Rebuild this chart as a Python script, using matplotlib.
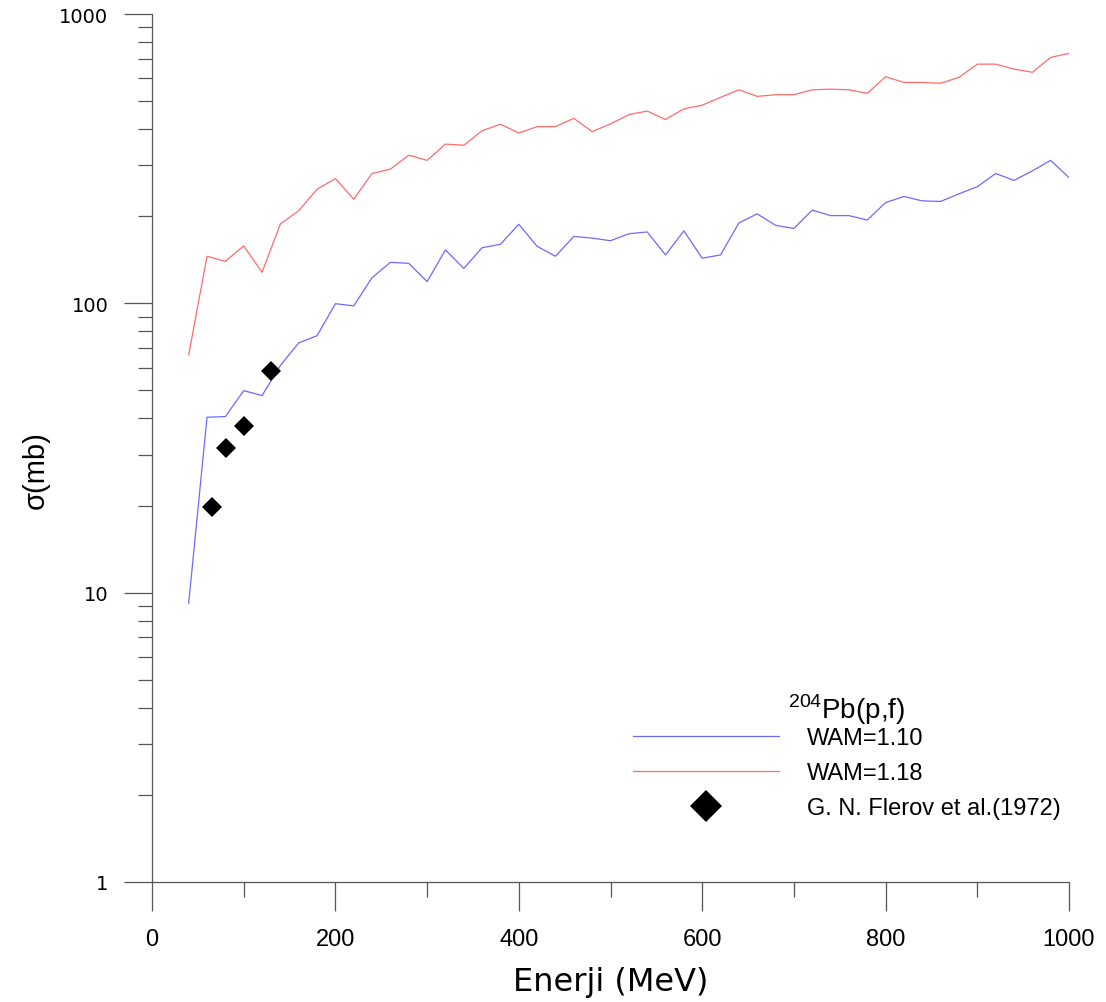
import matplotlib
matplotlib.use('Agg')
import matplotlib.pyplot as plt
from matplotlib.ticker import FixedLocator, LogLocator, NullFormatter

# Veriler
enerji = [40, 60, 80, 100, 120, 140, 160, 180, 200, 220, 240, 260, 280, 300,
          320, 340, 360, 380, 400, 420, 440, 460, 480, 500, 520, 540, 560,
          580, 600, 620, 640, 660, 680, 700, 720, 740, 760, 780, 800, 820,
          840, 860, 880, 900, 920, 940, 960, 980, 1000]

wam_110 = [9.2, 40.4, 40.6, 49.9, 48, 61, 73, 77.3, 99.7, 98, 122.7, 138.6,
           137.5, 118.8, 153, 132, 155.7, 160, 187.6, 157.4, 145.4, 170.4,
           168, 164.6, 174, 176.5, 147, 178, 143.2, 147, 189.6, 203.8, 186,
           181.5, 210, 201, 201, 194, 223, 234, 226, 225, 239, 253, 281, 266,
           287, 312, 272]

wam_118 = [66.3, 145.4, 139.7, 158, 128, 188, 209, 248, 270, 229, 281, 291,
           325, 312, 355, 352, 395, 416, 388, 408, 408, 436, 392, 417, 449,
           462, 432, 470, 484, 515, 547, 519, 526, 526, 547, 550, 547, 532,
           607, 580, 580, 576, 604, 671, 671, 645, 629, 708, 731]

flerov_e = [65, 81, 100, 130]
flerov_s = [19.8, 31.6, 37.8, 58.3]

x_ticks = [0, 200, 400, 600, 800, 1000]
y_ticks = [1, 10, 100, 1000]

plt.rcParams['mathtext.fontset'] = 'custom'
plt.rcParams['mathtext.rm'] = 'Liberation Sans'

fig = plt.figure(figsize=(11.06, 10.03), dpi=100)
ax = fig.add_axes([152 / 1106, 1 - 883 / 1003, 917 / 1106, 868 / 1003])

ax.plot(enerji, wam_110, color='#6b6bff', lw=0.9, label='WAM=1.10')
ax.plot(enerji, wam_118, color='#ff6b6b', lw=0.9, label='WAM=1.18')
ax.plot(flerov_e, flerov_s, 'D', color='black', ms=10, mew=0,
        label='G. N. Flerov et al.(1972)')

ax.set_yscale('log')
ax.set_xlim(0, 1000)
ax.set_ylim(1, 1000)

ax.xaxis.set_major_locator(FixedLocator(x_ticks))
ax.xaxis.set_minor_locator(FixedLocator([100, 300, 500, 700, 900]))
ax.yaxis.set_major_locator(FixedLocator(y_ticks))
ax.yaxis.set_minor_locator(LogLocator(base=10, subs=range(2, 10)))
ax.yaxis.set_minor_formatter(NullFormatter())
ax.set_xticklabels([str(v) for v in x_ticks], fontsize=17, family='Liberation Sans')
ax.set_yticklabels([str(v) for v in y_ticks], fontsize=14, family='DejaVu Sans')

gri = '#555555'
for s in ['top', 'right']:
    ax.spines[s].set_visible(False)
for s in ['left', 'bottom']:
    ax.spines[s].set_color(gri)
    ax.spines[s].set_linewidth(0.9)
ax.tick_params(which='major', direction='out', color=gri, width=0.9)
ax.tick_params(axis='x', which='major', length=21, pad=12)
ax.tick_params(axis='x', which='minor', length=10.8, color=gri, width=0.9)
ax.tick_params(axis='y', which='major', length=20, pad=11.5)
ax.tick_params(axis='y', which='minor', length=10, color=gri, width=0.9)

ax.set_xlabel('Enerji (MeV)', fontsize=23, family='DejaVu Sans')
ax.xaxis.set_label_coords(0.5, -0.097)
ax.set_ylabel('σ(mb)', fontsize=21, family='Liberation Sans')
ax.yaxis.set_label_coords(-0.111, 0.476)

leg = ax.legend(loc='upper left', bbox_to_anchor=((633 - 152) / 917, 0.22),
                frameon=False, prop={'family': 'Liberation Sans', 'size': 17},
                handlelength=6.17, handletextpad=1.2, labelspacing=0.55,
                borderpad=0, borderaxespad=0, markerscale=1.6,
                title='$^{204}$Pb(p,f)',
                title_fontproperties={'family': 'Liberation Sans', 'size': 20})
# baslik ile ilk satir arasini daralt
leg._legend_box.sep = 1

fig.savefig('out.png', dpi=100)
